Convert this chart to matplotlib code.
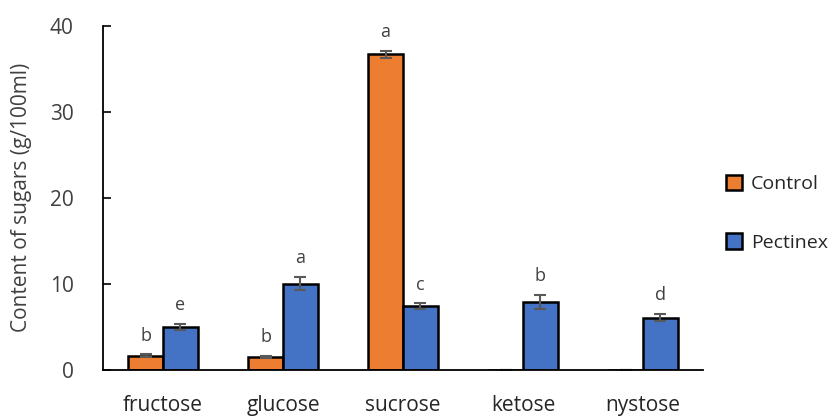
import matplotlib.pyplot as plt
import numpy as np

plt.rcParams["font.family"] = ["Open Sans", "DejaVu Sans"]

sugars = ["fructose", "glucose", "sucrose", "ketose", "nystose"]
control = [1.6, 1.5, 36.7, 0.0, 0.0]
control_err = [0.15, 0.12, 0.4, 0.0, 0.0]
control_letters = ["b", "b", "a", "", ""]
pectinex = [5.0, 10.0, 7.4, 7.9, 6.05]
pectinex_err = [0.35, 0.8, 0.3, 0.8, 0.4]
pectinex_letters = ["e", "a", "c", "b", "d"]

fig = plt.figure(figsize=(8.37, 4.18), dpi=100)
ax = fig.add_axes([0.123, 0.116, 0.717, 0.822])

x = np.arange(len(sugars))
width = 0.29
err_style = dict(ecolor="#595959", elinewidth=1.5, capsize=4, capthick=1.5)

ax.bar(x - width / 2, control, width, color="#ed7d31", edgecolor="black",
       linewidth=1.8, yerr=control_err, error_kw=err_style, label="Control")
ax.bar(x + width / 2, pectinex, width, color="#4472c4", edgecolor="black",
       linewidth=1.8, yerr=pectinex_err, error_kw=err_style, label="Pectinex")

for xi, v, e, t in zip(x - width / 2, control, control_err, control_letters):
    ax.annotate(t, (xi, v + e), xytext=(0, 7), textcoords="offset points",
                ha="center", va="bottom", fontsize=13, color="#404040")
for xi, v, e, t in zip(x + width / 2, pectinex, pectinex_err, pectinex_letters):
    ax.annotate(t, (xi, v + e), xytext=(0, 7), textcoords="offset points",
                ha="center", va="bottom", fontsize=13, color="#404040")

ax.set_xlim(-0.5, len(sugars) - 0.5)
ax.set_ylim(0, 40)
ax.set_yticks(range(0, 41, 10))
ax.set_xticks(x)
ax.set_xticklabels(sugars, fontsize=15, color="#262626")
ax.tick_params(axis="x", length=0, pad=18)
ax.tick_params(axis="y", direction="in", length=6, width=1.2,
               labelsize=15, pad=21, labelcolor="#404040")
ax.set_ylabel("Content of sugars (g/100ml)", fontsize=15, color="#404040",
              labelpad=13)

for side in ["top", "right"]:
    ax.spines[side].set_visible(False)
for side in ["left", "bottom"]:
    ax.spines[side].set_linewidth(1.3)

fig.legend(loc="center left", bbox_to_anchor=(0.846, 0.49), frameon=False,
           fontsize=14, handlelength=0.85, handleheight=0.85,
           handletextpad=0.45, labelspacing=2.05, labelcolor="#262626")

plt.savefig("out.png", dpi=100)
